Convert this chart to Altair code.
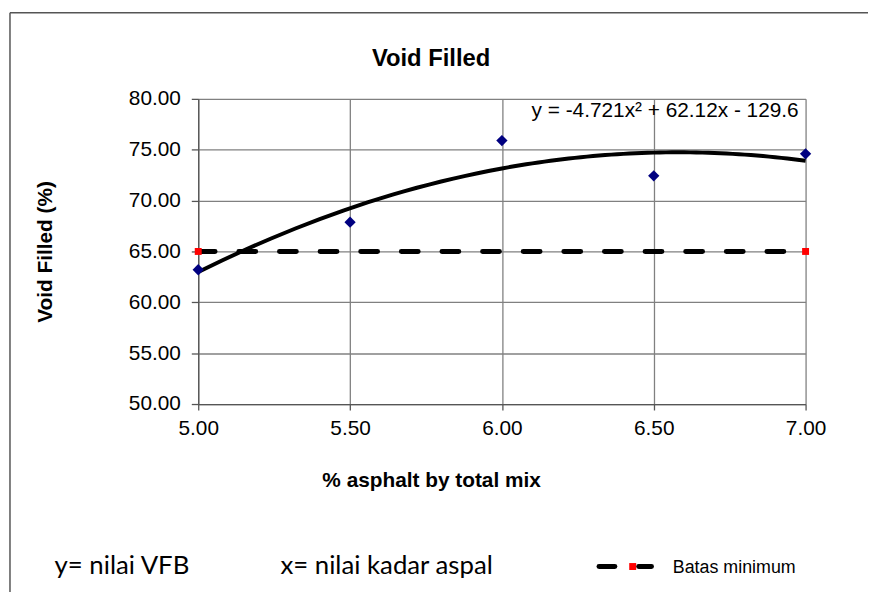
import altair as alt
import pandas as pd

# ---- data ----
asphalt = [5.0, 5.5, 6.0, 6.5, 7.0]
vfb = [63.20, 67.88, 75.90, 72.43, 74.60]
batas_x = [5.0, 7.0]
batas_y = [65.0, 65.0]
x_ticks = [5.0, 5.5, 6.0, 6.5, 7.0]
y_ticks = [50, 55, 60, 65, 70, 75, 80]

chart_title = "Void Filled"
x_title = "% asphalt by total mix"
y_title = "Void Filled (%)"
equation = "y = -4.721x² + 62.12x - 129.6"
note_y = "y= nilai VFB"
note_x = "x= nilai kadar aspal"
legend_label = "Batas minimum"

df = pd.DataFrame({"x": asphalt, "y": vfb})
bd = pd.DataFrame({"x": batas_x, "y": batas_y})
one = pd.DataFrame({"k": [0]})  # single row for annotations

FONT = "Liberation Sans"

x_enc = alt.X(
    "x:Q",
    scale=alt.Scale(domain=[5, 7], nice=False, zero=False),
    axis=alt.Axis(
        values=x_ticks, format=".2f", title=x_title, grid=True,
        tickSize=6, labelPadding=8, labelFlush=False, labelOverlap=False,
        titleX=235, titleY=83, titleBaseline="alphabetic",
    ),
)
y_enc = alt.Y(
    "y:Q",
    scale=alt.Scale(domain=[50, 80], nice=False, zero=False),
    axis=alt.Axis(
        values=y_ticks, format=".2f", title=y_title, grid=True,
        tickSize=7, labelPadding=11, labelFlush=False, labelOverlap=False,
        titleX=-154, titleY=154, titleAngle=270, titleBaseline="middle",
    ),
)

base = alt.Chart(df)

# frame of the chart object
frame_left = alt.Chart(one).mark_rule(color="#555555", strokeWidth=1.5).encode(
    x=alt.value(-190), y=alt.value(-87), y2=alt.value(700)
)
frame_top = alt.Chart(one).mark_rule(color="#555555", strokeWidth=1.5).encode(
    x=alt.value(-190), x2=alt.value(800), y=alt.value(-87)
)

trend = base.transform_regression(
    "x", "y", method="poly", order=2, extent=[5, 7]
).mark_line(color="black", strokeWidth=4).encode(x=x_enc, y=y_enc)

batas_line = alt.Chart(bd).mark_line(
    color="black", strokeWidth=5, strokeDash=[17, 24], strokeCap="round"
).encode(x=x_enc, y=y_enc)

batas_pts = alt.Chart(bd).mark_point(
    shape="square", filled=True, color="#ff0000", size=49, opacity=1
).encode(x=x_enc, y=y_enc)

pts = base.mark_point(
    shape="diamond", filled=True, color="#000080", size=130, opacity=1
).encode(x=x_enc, y=y_enc)

title_txt = alt.Chart(one).mark_text(
    text=chart_title, font=FONT, fontSize=24, fontWeight="bold",
    align="center", baseline="alphabetic", color="black"
).encode(x=alt.value(235), y=alt.value(-33))

eq_txt = alt.Chart(one).mark_text(
    text=equation, font=FONT, fontSize=21, fontWeight="normal",
    align="right", baseline="alphabetic", color="black"
).encode(x=alt.value(606), y=alt.value(18))

note1 = alt.Chart(one).mark_text(
    text=note_y, font="Lato", fontSize=26, fontWeight="normal",
    align="left", baseline="alphabetic", color="black"
).encode(x=alt.value(-145), y=alt.value(480))

note2 = alt.Chart(one).mark_text(
    text=note_x, font="Lato", fontSize=26, fontWeight="normal",
    align="left", baseline="alphabetic", color="black"
).encode(x=alt.value(83), y=alt.value(480))

leg_dash1 = alt.Chart(one).mark_rule(
    color="black", strokeWidth=5, strokeCap="round"
).encode(x=alt.value(404.5), x2=alt.value(420.5), y=alt.value(472))
leg_dash2 = alt.Chart(one).mark_rule(
    color="black", strokeWidth=5, strokeCap="round"
).encode(x=alt.value(444.5), x2=alt.value(457.5), y=alt.value(472))
leg_sq = alt.Chart(one).mark_point(
    shape="square", filled=True, color="#ff0000", size=49, opacity=1
).encode(x=alt.value(438.5), y=alt.value(472))
leg_txt = alt.Chart(one).mark_text(
    text=legend_label, font=FONT, fontSize=18, fontWeight="normal",
    align="left", baseline="alphabetic", color="black"
).encode(x=alt.value(479), y=alt.value(479))

chart = alt.layer(
    frame_left, frame_top, trend, batas_line, batas_pts, pts,
    title_txt, eq_txt, note1, note2, leg_dash1, leg_dash2, leg_sq, leg_txt,
).properties(
    width=613, height=308,
    background="white",
    autosize=alt.AutoSizeParams(type="none"),
    padding={"left": 192, "top": 89, "right": 63, "bottom": 187},
).configure_view(
    strokeWidth=0
).configure_axis(
    gridColor="#808080", gridWidth=1.3,
    domainColor="#555555", domainWidth=1.3,
    tickColor="#555555", tickWidth=1.3,
    labelFont=FONT, labelFontSize=21, labelColor="black",
    titleFont=FONT, titleFontSize=21, titleFontWeight="bold", titleColor="black",
)

chart.save("out.html", embed_options={"renderer": "svg", "actions": False})
